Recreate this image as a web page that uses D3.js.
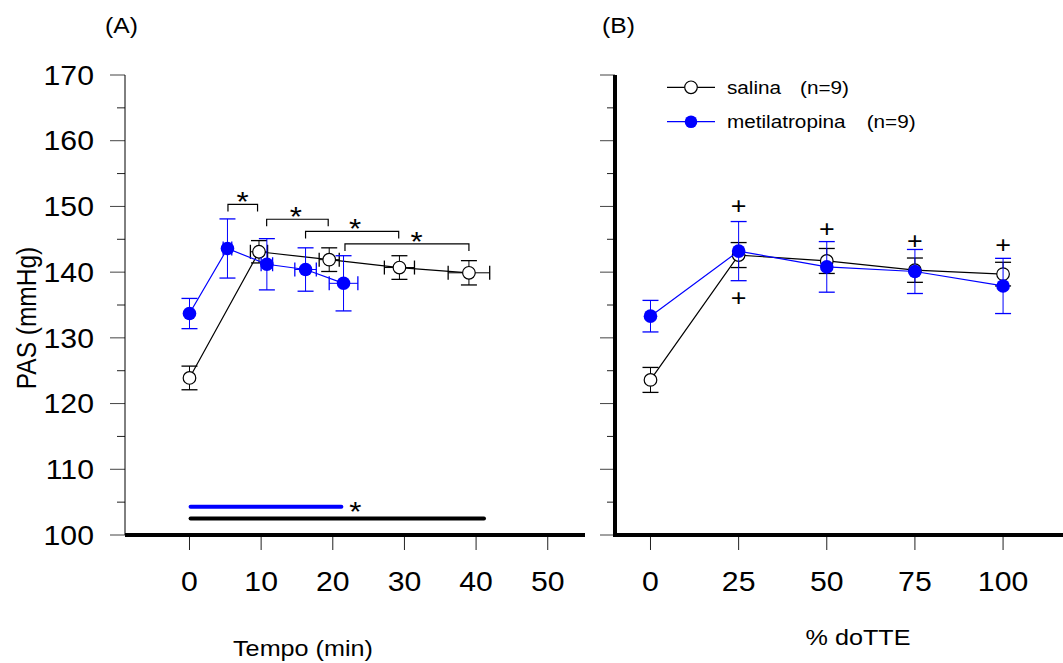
<!DOCTYPE html>
<html lang="en">
<head>
<meta charset="UTF-8">
<title>PAS</title>
<script src="https://cdn.jsdelivr.net/npm/d3@7/dist/d3.min.js"></script>
<style>
	body { margin: 0; background: #fff; }
	text { font-family: "Liberation Sans", Arial, sans-serif; fill: #000; }
</style>
</head>
<body>
<script>
// painel A - tempo (min)
var salinaA_t = [0, 9.7, 19.5, 29.3, 39.0];
var salinaA_pas = [123.9, 143.1, 141.9, 140.7, 139.9];
var salinaA_errY = [1.8, 1.7, 1.8, 1.8, 1.85];
var salinaA_errX = [0, 1.2, 1.4, 2.1, 2.9];

var metilA_t = [0, 5.3, 10.8, 16.2, 21.5];
var metilA_pas = [133.7, 143.6, 141.2, 140.4, 138.3];
var metilA_errY = [2.3, 4.5, 3.9, 3.3, 4.2];
var metilA_errX = [0, 0.6, 0.8, 1.5, 2.0];

// colchetes de significancia
var bracketFrom = [5.37, 10.77, 16.2, 21.7];
var bracketTo = [9.5, 19.36, 29.2, 39.0];
var bracketLevel = [150.3, 148.05, 146.2, 144.3];
var bracketStarAt = [7.4, 14.85, 23.1, 31.7];

// barras horizontais
var sigBarFrom = [0.15, 0.15];
var sigBarTo = [21.2, 41.1];
var sigBarLevel = [104.3, 102.5];

// painel B - % do TTE
var pctTTE = [0, 25, 50, 75, 100];
var salinaB_pas = [123.6, 142.6, 141.7, 140.3, 139.7];
var salinaB_err = [1.9, 1.9, 1.9, 1.85, 1.8];
var metilB_pas = [133.3, 143.2, 140.8, 140.1, 137.9];
var metilB_err = [2.4, 4.5, 3.85, 3.35, 4.2];

var plusX = [25, 25, 50, 75, 100];
var plusY = [150.1, 136.0, 146.5, 144.7, 144.1];

var yMajor = [100, 110, 120, 130, 140, 150, 160, 170];
var yMinor = [105, 115, 125, 135, 145, 155, 165];
var xTicksA = [0, 10, 20, 30, 40, 50];
var xTicksB = [0, 25, 50, 75, 100];

var width = 1063, height = 663;
var sx = 1.12; // leve esticamento horizontal do texto

var svg = d3.select('body').append('svg')
	.attr('width', width)
	.attr('height', height);

var yScale = d3.scaleLinear().domain([100, 170]).range([535, 75]);
var xA = d3.scaleLinear().domain([-9, 55.2]).range([125, 585]);
var xB = d3.scaleLinear().domain([-10.35, 117]).range([614, 1063]);

function label(g, x, y, str, size, anchor, rot) {
	var t = g.append('text')
		.attr('transform', `translate(${x},${y}) scale(${sx},1)` + (rot ? ` rotate(${rot})` : ''))
		.attr('font-size', size)
		.attr('text-anchor', anchor || 'start')
		.style('white-space', 'pre')
		.text(str);
	return t;
}

function drawYAxis(x0, thick, withLabels) {
	var g = svg.append('g');
	g.selectAll('.maj').data(yMajor).enter().append('line')
		.attr('x1', x0 - 15).attr('x2', x0)
		.attr('y1', d => yScale(d)).attr('y2', d => yScale(d))
		.attr('stroke', '#444').attr('stroke-width', 1);
	g.selectAll('.min').data(yMinor).enter().append('line')
		.attr('x1', x0 - 8).attr('x2', x0)
		.attr('y1', d => yScale(d)).attr('y2', d => yScale(d))
		.attr('stroke', '#222').attr('stroke-width', 1);
	g.append('line')
		.attr('x1', x0).attr('x2', x0)
		.attr('y1', yScale(170)).attr('y2', yScale(100))
		.attr('stroke', '#000').attr('stroke-width', thick);
	if (withLabels) {
		yMajor.forEach(function(d) {
			label(g, 94, yScale(d) + 9.7, String(d), 27, 'end');
		});
	}
}

function drawXAxis(scale, ticks, x1, x2) {
	var g = svg.append('g');
	g.append('line')
		.attr('x1', x1).attr('x2', x2)
		.attr('y1', 535).attr('y2', 535)
		.attr('stroke', '#000').attr('stroke-width', 4);
	g.selectAll('.tk').data(ticks).enter().append('line')
		.attr('x1', d => scale(d)).attr('x2', d => scale(d))
		.attr('y1', 537).attr('y2', 550)
		.attr('stroke', '#222').attr('stroke-width', 1);
	ticks.forEach(function(d) {
		label(g, scale(d), 591, String(d), 27, 'middle');
	});
}

function errorBars(g, xs, ys, ex, ey, xScale, color, cap) {
	xs.forEach(function(x, i) {
		var cx = xScale(x), cy = yScale(ys[i]);
		var top = yScale(ys[i] + ey[i]), bot = yScale(ys[i] - ey[i]);
		g.append('line').attr('x1', cx).attr('x2', cx).attr('y1', top).attr('y2', bot)
			.attr('stroke', color).attr('stroke-width', 1);
		[top, bot].forEach(function(yy) {
			g.append('line').attr('x1', cx - cap).attr('x2', cx + cap).attr('y1', yy).attr('y2', yy)
				.attr('stroke', color).attr('stroke-width', 1.3);
		});
		if (ex && ex[i] > 0) {
			var l = xScale(x - ex[i]), r = xScale(x + ex[i]);
			g.append('line').attr('x1', l).attr('x2', r).attr('y1', cy).attr('y2', cy)
				.attr('stroke', color).attr('stroke-width', 1);
			[l, r].forEach(function(xx) {
				g.append('line').attr('x1', xx).attr('x2', xx).attr('y1', cy - 7).attr('y2', cy + 7)
					.attr('stroke', color).attr('stroke-width', 1.3);
			});
		}
	});
}

function series(g, xs, ys, ex, ey, xScale, color, filled) {
	var line = d3.line().x(d => xScale(d[0])).y(d => yScale(d[1]));
	var pts = xs.map((x, i) => [x, ys[i]]);
	g.append('path').datum(pts).attr('d', line)
		.attr('fill', 'none').attr('stroke', color).attr('stroke-width', 1.2);
	errorBars(g, xs, ys, ex, ey, xScale, color, 8);
	g.selectAll('circle.pt').data(pts).enter().append('circle')
		.attr('cx', d => xScale(d[0])).attr('cy', d => yScale(d[1]))
		.attr('r', filled ? 6.8 : 6.3)
		.attr('fill', filled ? color : '#fff')
		.attr('stroke', filled ? 'none' : '#000')
		.attr('stroke-width', 1.2);
}

// eixos
drawYAxis(125, 1, true);
drawXAxis(xA, xTicksA, 125, 585);
drawYAxis(615, 4, false);
drawXAxis(xB, xTicksB, 613, 1063);

// painel A
var gA = svg.append('g');
series(gA, salinaA_t, salinaA_pas, salinaA_errX, salinaA_errY, xA, '#000', false);
series(gA, metilA_t, metilA_pas, metilA_errX, metilA_errY, xA, '#0000ff', true);

bracketFrom.forEach(function(f, i) {
	var x1 = xA(f), x2 = xA(bracketTo[i]), y = yScale(bracketLevel[i]);
	gA.append('path')
		.attr('d', `M${x1},${y + 7}V${y}H${x2}V${y + 7}`)
		.attr('fill', 'none').attr('stroke', '#000').attr('stroke-width', 1.2);
	label(gA, xA(bracketStarAt[i]), y + 7, '*', 28, 'middle');
});

var barColors = ['#0000ff', '#000'];
sigBarFrom.forEach(function(f, i) {
	gA.append('line')
		.attr('x1', xA(f)).attr('x2', xA(sigBarTo[i]))
		.attr('y1', yScale(sigBarLevel[i])).attr('y2', yScale(sigBarLevel[i]))
		.attr('stroke', barColors[i]).attr('stroke-width', 4)
		.attr('stroke-linecap', 'round');
});
label(gA, xA(sigBarTo[0]) + 14, yScale(sigBarLevel[0]) + 14, '*', 28, 'middle');

// painel B
var gB = svg.append('g');
series(gB, pctTTE, salinaB_pas, null, salinaB_err, xB, '#000', false);
series(gB, pctTTE, metilB_pas, null, metilB_err, xB, '#0000ff', true);
plusX.forEach(function(p, i) {
	label(gB, xB(p), yScale(plusY[i]) + 8, '+', 24, 'middle');
});

// legenda
var legY = [87.3, 121.7];
var legText = ['salina', 'metilatropina'];
var legN = [800, 866.7];
var legColor = ['#000', '#0000ff'];
legY.forEach(function(y, i) {
	svg.append('line').attr('x1', 667).attr('x2', 715).attr('y1', y).attr('y2', y)
		.attr('stroke', legColor[i]).attr('stroke-width', 1.2);
	svg.append('circle').attr('cx', 691).attr('cy', y).attr('r', 6.3)
		.attr('fill', i ? legColor[i] : '#fff')
		.attr('stroke', i ? 'none' : '#000').attr('stroke-width', 1.2);
	label(svg, 727, y + 6.5, legText[i], 18.5, 'start');
	label(svg, legN[i], y + 6.5, '(n=9)', 18.5, 'start');
});

// titulos
label(svg, 105, 33, '(A)', 22, 'start');
label(svg, 602, 33, '(B)', 22, 'start');
label(svg, 303, 656, 'Tempo (min)', 22.5, 'middle');
label(svg, 858, 645, '% doTTE', 22.5, 'middle');
label(svg, 36, 318, 'PAS (mmHg)', 24.5, 'middle', -90);
</script>
</body>
</html>
